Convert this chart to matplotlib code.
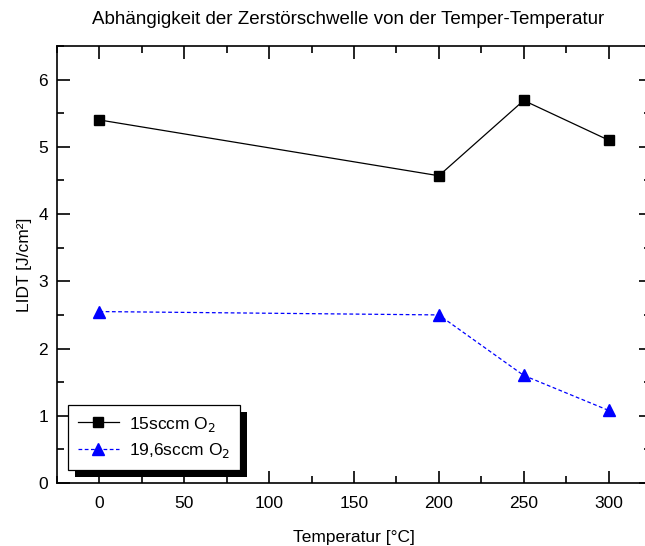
import matplotlib
matplotlib.use('Agg')
import matplotlib.pyplot as plt
from matplotlib.patches import Rectangle
from matplotlib.ticker import MultipleLocator

plt.rcParams['font.family'] = ['Liberation Sans', 'DejaVu Sans']

temps = [0, 200, 250, 300]
lidt_15 = [5.4, 4.57, 5.69, 5.1]
lidt_196 = [2.55, 2.5, 1.6, 1.08]
labels = ['15sccm O$_2$', '19,6sccm O$_2$']

W, H = 645, 546
fig = plt.figure(figsize=(W / 100, H / 100), dpi=100)
# axes in pixels: left 57, right 651 (past edge), top 46, bottom 483
ax = fig.add_axes([57 / W, (H - 483) / H, (651 - 57) / W, (483 - 46) / H])

ax.plot(temps, lidt_15, color='black', lw=0.9, marker='s', ms=6.7,
        label=labels[0])
ax.plot(temps, lidt_196, color='#0000ff', lw=0.9, ls=(0, (3, 2)), marker='^',
        ms=8, label=labels[1])

ax.set_xlim(-25, 325)
ax.set_ylim(0, 6.5)
ax.xaxis.set_major_locator(MultipleLocator(50))
ax.xaxis.set_minor_locator(MultipleLocator(25))
ax.yaxis.set_major_locator(MultipleLocator(1))
ax.yaxis.set_minor_locator(MultipleLocator(0.5))
ax.tick_params(which='both', direction='in', top=True, right=True,
               labelsize=12.5, width=1.2)
ax.tick_params(axis='x', pad=9)
ax.tick_params(axis='y', pad=6.5)
ax.tick_params(which='major', length=9)
ax.tick_params(which='minor', length=5)
for s in ax.spines.values():
    s.set_linewidth(1.2)

ax.set_xlabel('Temperatur [°C]', fontsize=12.5)
ax.xaxis.set_label_coords(0.5, -0.108)
ax.set_ylabel('LIDT [J/cm²]', fontsize=12.5)
ax.yaxis.set_label_coords(-0.042, 0.5)
fig.text(348 / W, 1 - 20 / H, 'Abhängigkeit der Zerstörschwelle von der Temper-Temperatur',
         ha='center', va='center', fontsize=13.5)

leg = ax.legend(loc='lower left', bbox_to_anchor=(0.0185, 0.03), borderaxespad=0,
                fancybox=False, edgecolor='black', framealpha=1, fontsize=12.5,
                handlelength=2.4, handletextpad=0.55, borderpad=0.55,
                labelspacing=0.45)
leg.get_frame().set_linewidth(0.9)
leg.set_zorder(5)

fig.canvas.draw()
bb = leg.get_window_extent()
shadow = Rectangle((bb.x0 + 7, bb.y0 - 7), bb.width, bb.height, transform=None,
                   facecolor='black', edgecolor='none', zorder=4, clip_on=False)
ax.add_artist(shadow)

fig.savefig('out.png', dpi=100)
